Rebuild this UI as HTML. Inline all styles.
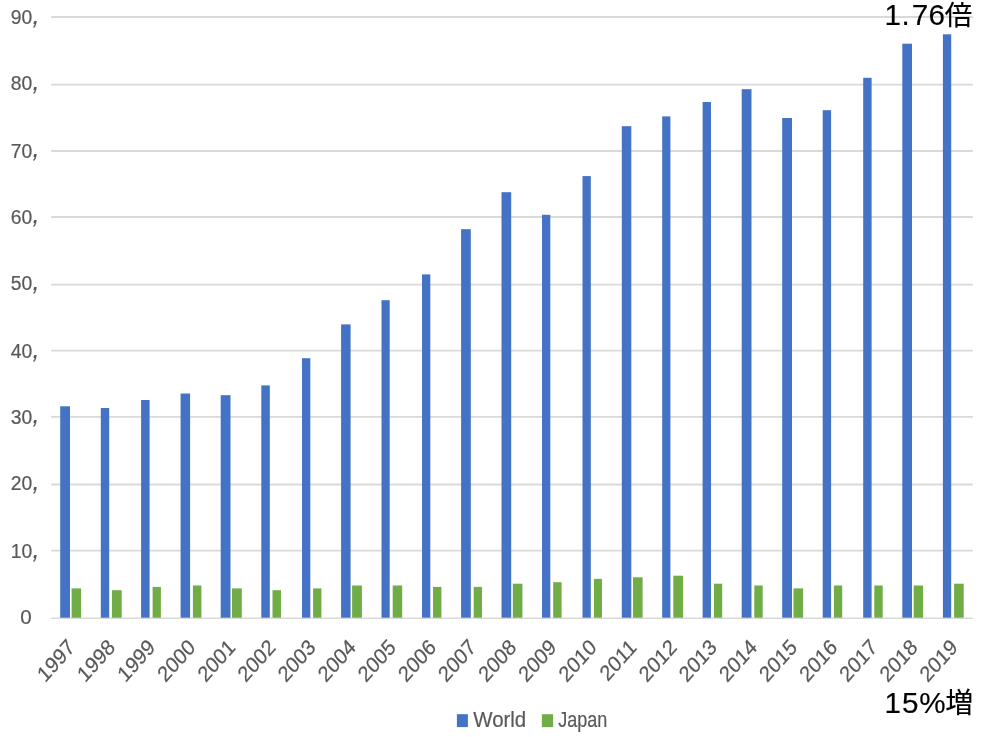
<!DOCTYPE html>
<html lang="ja">
<head>
<meta charset="utf-8">
<title>World / Japan 1997-2019</title>
<style>
html,body{margin:0;padding:0;background:#fff;}
body{width:981px;height:737px;overflow:hidden;position:relative;}
svg{display:block;position:absolute;left:0;top:0;}
text{font-family:"Liberation Sans","Noto Sans CJK JP",sans-serif;}
.ax{font-size:20.56px;fill:#595959;}
.xl{font-size:20.5px;fill:#595959;}
.lg{font-size:21.4px;fill:#595959;}
.cm{font-size:27px;font-style:italic;}
.an{fill:#000;stroke:#000;stroke-width:0.15;}
.tx{stroke:#595959;stroke-width:0.2;}
</style>
</head>
<body>
<svg width="981" height="737" viewBox="0 0 981 737">
<rect x="0" y="0" width="981" height="737" fill="#ffffff"/>
<g stroke="#d9d9d9" stroke-width="1.8" fill="none">
<line x1="51.2" y1="17.0" x2="972.8" y2="17.0"/>
<line x1="51.2" y1="84.7" x2="972.8" y2="84.7"/>
<line x1="51.2" y1="151.0" x2="972.8" y2="151.0"/>
<line x1="51.2" y1="217.0" x2="972.8" y2="217.0"/>
<line x1="51.2" y1="284.6" x2="972.8" y2="284.6"/>
<line x1="51.2" y1="350.7" x2="972.8" y2="350.7"/>
<line x1="51.2" y1="416.8" x2="972.8" y2="416.8"/>
<line x1="51.2" y1="484.5" x2="972.8" y2="484.5"/>
<line x1="51.2" y1="550.6" x2="972.8" y2="550.6"/>
<line x1="51.2" y1="618.2" x2="972.8" y2="618.2" stroke-width="1.4"/>
</g>
<g fill="#4472c4">
<rect x="60.2" y="406.3" width="9.8" height="211.4"/>
<rect x="100.8" y="408.0" width="8.4" height="209.7"/>
<rect x="141.1" y="400.0" width="8.5" height="217.7"/>
<rect x="180.6" y="393.5" width="9.5" height="224.2"/>
<rect x="220.7" y="395.2" width="9.8" height="222.5"/>
<rect x="261.3" y="385.4" width="8.5" height="232.3"/>
<rect x="302.0" y="358.2" width="8.3" height="259.5"/>
<rect x="341.1" y="324.4" width="9.5" height="293.3"/>
<rect x="381.5" y="300.2" width="8.2" height="317.5"/>
<rect x="422.0" y="274.4" width="8.3" height="343.3"/>
<rect x="461.1" y="229.2" width="9.7" height="388.5"/>
<rect x="501.5" y="192.2" width="9.7" height="425.5"/>
<rect x="542.0" y="214.8" width="8.3" height="402.9"/>
<rect x="582.5" y="176.1" width="8.3" height="441.6"/>
<rect x="621.8" y="126.2" width="9.5" height="491.5"/>
<rect x="662.2" y="116.4" width="8.2" height="501.3"/>
<rect x="702.6" y="102.0" width="8.4" height="515.7"/>
<rect x="741.7" y="89.2" width="9.8" height="528.5"/>
<rect x="782.2" y="118.0" width="9.8" height="499.7"/>
<rect x="822.7" y="110.2" width="8.4" height="507.5"/>
<rect x="863.2" y="77.8" width="8.4" height="539.9"/>
<rect x="902.3" y="43.7" width="9.7" height="574.0"/>
<rect x="942.9" y="34.3" width="8.3" height="583.4"/>
</g>
<g fill="#70ad47">
<rect x="71.6" y="588.4" width="9.5" height="29.3"/>
<rect x="111.9" y="590.2" width="9.8" height="27.5"/>
<rect x="152.6" y="586.9" width="8.3" height="30.8"/>
<rect x="192.9" y="585.5" width="8.5" height="32.2"/>
<rect x="232.0" y="588.4" width="9.8" height="29.3"/>
<rect x="272.5" y="590.2" width="8.5" height="27.5"/>
<rect x="313.1" y="588.4" width="8.3" height="29.3"/>
<rect x="352.1" y="585.5" width="9.8" height="32.2"/>
<rect x="392.7" y="585.5" width="9.5" height="32.2"/>
<rect x="433.0" y="586.9" width="8.4" height="30.8"/>
<rect x="473.7" y="586.9" width="8.3" height="30.8"/>
<rect x="512.8" y="583.7" width="9.6" height="34.0"/>
<rect x="553.2" y="582.2" width="8.4" height="35.5"/>
<rect x="593.9" y="578.9" width="8.1" height="38.8"/>
<rect x="633.0" y="577.3" width="9.6" height="40.4"/>
<rect x="673.3" y="575.7" width="9.8" height="42.0"/>
<rect x="713.9" y="583.7" width="8.3" height="34.0"/>
<rect x="754.3" y="585.5" width="8.4" height="32.2"/>
<rect x="793.5" y="588.4" width="9.6" height="29.3"/>
<rect x="833.9" y="585.5" width="8.3" height="32.2"/>
<rect x="874.3" y="585.5" width="8.4" height="32.2"/>
<rect x="913.7" y="585.5" width="9.4" height="32.2"/>
<rect x="954.1" y="583.7" width="9.6" height="34.0"/>
</g>
<g class="ax tx">
<text transform="translate(10.70 24.10) scale(0.94 1.015)">90<tspan class="cm" x="23.10" dy="-0.60">,</tspan></text>
<text transform="translate(10.70 90.10) scale(0.94 1.015)">80<tspan class="cm" x="23.10" dy="-0.60">,</tspan></text>
<text transform="translate(10.70 158.00) scale(0.94 1.015)">70<tspan class="cm" x="23.10" dy="-0.60">,</tspan></text>
<text transform="translate(10.70 223.90) scale(0.94 1.015)">60<tspan class="cm" x="23.10" dy="-0.60">,</tspan></text>
<text transform="translate(10.70 290.30) scale(0.94 1.015)">50<tspan class="cm" x="23.10" dy="-0.60">,</tspan></text>
<text transform="translate(10.70 358.10) scale(0.94 1.015)">40<tspan class="cm" x="23.10" dy="-0.60">,</tspan></text>
<text transform="translate(10.70 423.90) scale(0.94 1.015)">30<tspan class="cm" x="23.10" dy="-0.60">,</tspan></text>
<text transform="translate(10.70 490.10) scale(0.94 1.015)">20<tspan class="cm" x="23.10" dy="-0.60">,</tspan></text>
<text transform="translate(10.70 558.10) scale(0.94 1.015)">10<tspan class="cm" x="23.10" dy="-0.60">,</tspan></text>
<text transform="translate(20.30 623.95) scale(1.0 1.0)">0</text>
</g>
<g class="xl tx" text-anchor="end">
<text transform="translate(76.10 648.50) scale(0.96 1.08) rotate(-45)">1997</text>
<text transform="translate(116.22 648.50) scale(0.96 1.08) rotate(-45)">1998</text>
<text transform="translate(156.34 648.50) scale(0.96 1.08) rotate(-45)">1999</text>
<text transform="translate(196.46 648.50) scale(0.96 1.08) rotate(-45)">2000</text>
<text transform="translate(236.58 648.50) scale(0.96 1.08) rotate(-45)">2001</text>
<text transform="translate(276.70 648.50) scale(0.96 1.08) rotate(-45)">2002</text>
<text transform="translate(316.82 648.50) scale(0.96 1.08) rotate(-45)">2003</text>
<text transform="translate(356.94 648.50) scale(0.96 1.08) rotate(-45)">2004</text>
<text transform="translate(397.06 648.50) scale(0.96 1.08) rotate(-45)">2005</text>
<text transform="translate(437.18 648.50) scale(0.96 1.08) rotate(-45)">2006</text>
<text transform="translate(477.30 648.50) scale(0.96 1.08) rotate(-45)">2007</text>
<text transform="translate(517.42 648.50) scale(0.96 1.08) rotate(-45)">2008</text>
<text transform="translate(557.54 648.50) scale(0.96 1.08) rotate(-45)">2009</text>
<text transform="translate(597.66 648.50) scale(0.96 1.08) rotate(-45)">2010</text>
<text transform="translate(637.78 648.50) scale(0.96 1.08) rotate(-45)">2011</text>
<text transform="translate(677.90 648.50) scale(0.96 1.08) rotate(-45)">2012</text>
<text transform="translate(718.02 648.50) scale(0.96 1.08) rotate(-45)">2013</text>
<text transform="translate(758.14 648.50) scale(0.96 1.08) rotate(-45)">2014</text>
<text transform="translate(798.26 648.50) scale(0.96 1.08) rotate(-45)">2015</text>
<text transform="translate(838.38 648.50) scale(0.96 1.08) rotate(-45)">2016</text>
<text transform="translate(878.50 648.50) scale(0.96 1.08) rotate(-45)">2017</text>
<text transform="translate(918.62 648.50) scale(0.96 1.08) rotate(-45)">2018</text>
<text transform="translate(958.74 648.50) scale(0.96 1.08) rotate(-45)">2019</text>
</g>
<rect x="456.9" y="714.2" width="11.0" height="12.9" fill="#4472c4"/>
<text class="lg tx" transform="translate(473.2 727.1) scale(0.956 1)">World</text>
<rect x="541.9" y="714.2" width="11.2" height="12.9" fill="#70ad47"/>
<text class="lg tx" transform="translate(558.3 727.1) scale(0.841 1)">Japan</text>
<text class="an" font-size="29.6"><tspan x="884.6 901.6 911.7 928.5" y="24.6">1.76</tspan><tspan font-size="27.5" x="944.7" y="24.85">倍</tspan></text>
<text class="an" font-size="29.6"><tspan x="884.6 902.0 919.3" y="712.6">15%</tspan><tspan font-size="28" x="945.2" y="712.95">増</tspan></text>
</svg>
</body>
</html>
